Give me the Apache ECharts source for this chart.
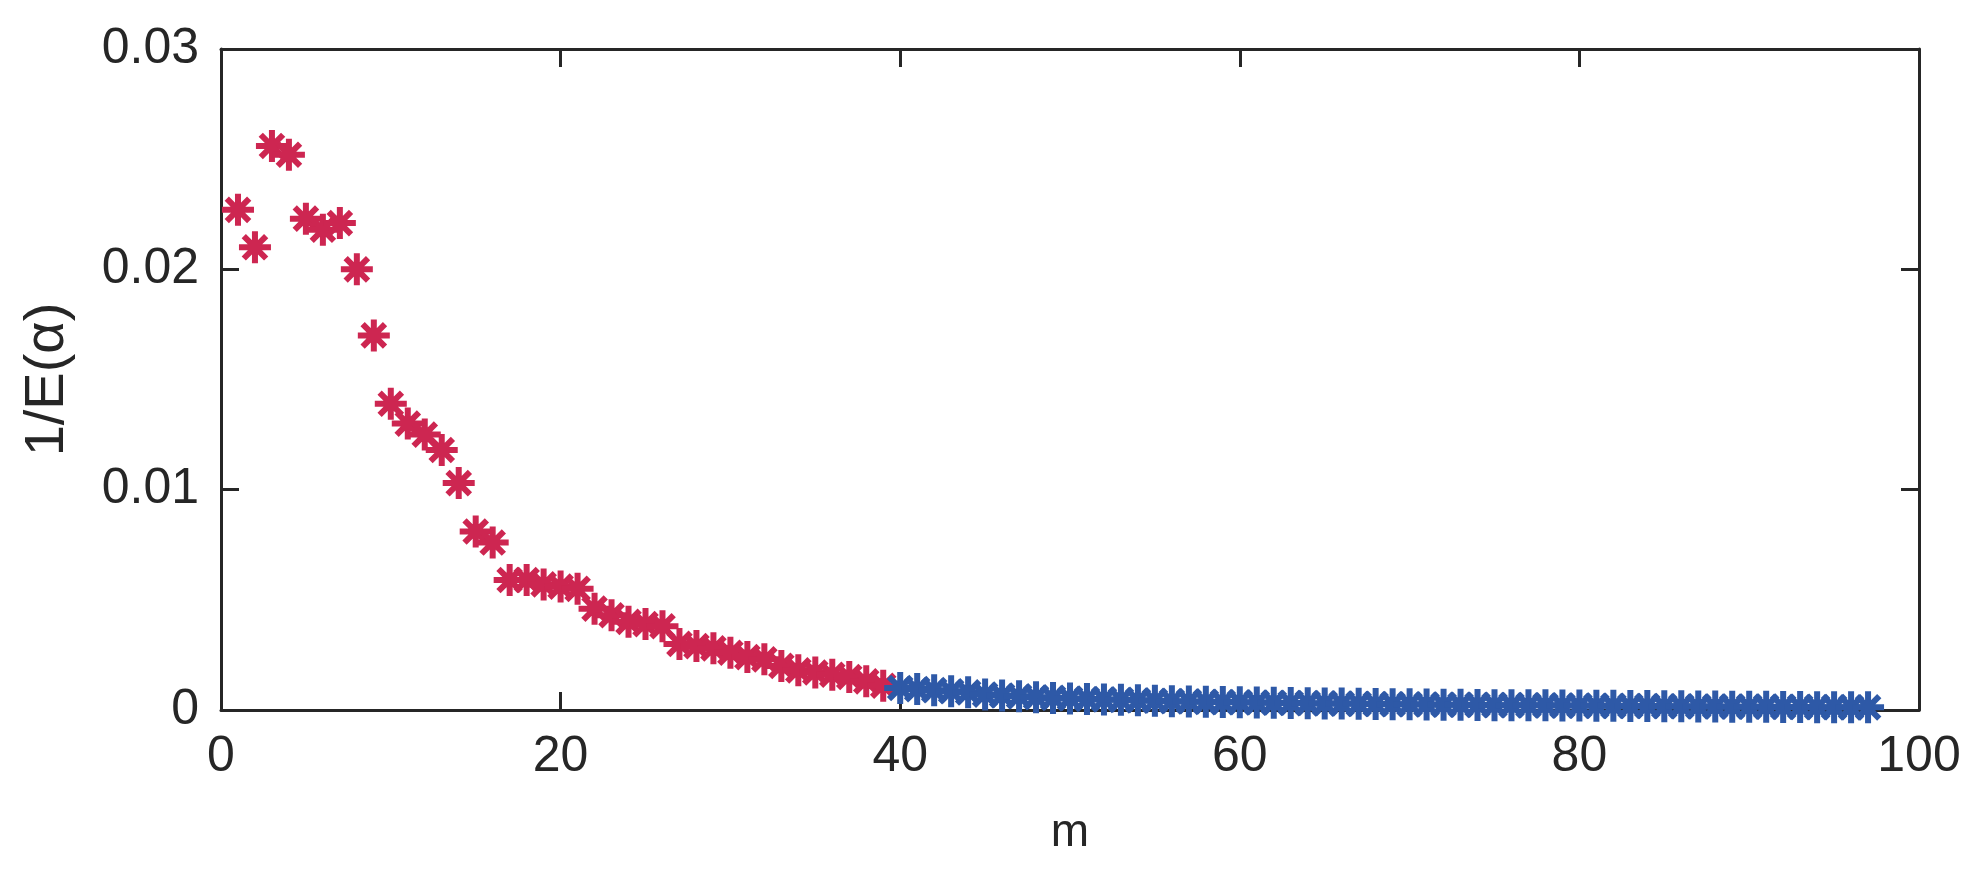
<!DOCTYPE html>
<html><head><meta charset="utf-8">
<script src="https://cdn.jsdelivr.net/npm/echarts@6/dist/echarts.min.js"></script>
<style>html,body{margin:0;padding:0;background:#fff}#c{width:1980px;height:869px}</style>
</head><body><div id="c"></div>
<script>
const redX = [1,2,3,4,5,6,7,8,9,10,11,12,13,14,15,16,17,18,19,20,21,22,23,24,25,26,27,28,29,30,31,32,33,34,35,36,37,38,39];
const redY = [0.0227,0.0210,0.0256,0.0252,0.0223,0.0218,0.0221,0.0200,0.0170,0.0139,0.0130,0.0125,0.0118,0.0103,0.0081,0.0076,0.0059,0.0059,0.0057,0.0056,0.0055,0.0046,0.0043,0.0040,0.0039,0.0038,0.0030,0.0029,0.0028,0.0026,0.0024,0.0023,0.0020,0.0018,0.0017,0.0016,0.0015,0.0013,0.0011];
const blueX = [40,41,42,43,44,45,46,47,48,49,50,51,52,53,54,55,56,57,58,59,60,61,62,63,64,65,66,67,68,69,70,71,72,73,74,75,76,77,78,79,80,81,82,83,84,85,86,87,88,89,90,91,92,93,94,95,96,97];
const blueY = [0.0010,0.00095,0.0009,0.00085,0.0008,0.0007,0.00066,0.00062,0.00058,0.00055,0.00052,0.0005,0.00048,0.00046,0.00044,0.00042,0.0004,0.00039,0.00037,0.00036,0.00035,0.00034,0.00033,0.00032,0.00031,0.0003,0.00029,0.00028,0.00027,0.00026,0.00026,0.00025,0.00024,0.00024,0.00023,0.00022,0.00022,0.00021,0.00021,0.0002,0.0002,0.00019,0.00019,0.00018,0.00018,0.00017,0.00017,0.00016,0.00016,0.00015,0.00015,0.00015,0.00014,0.00014,0.00013,0.00013,0.00012,0.00012];
const xTicks = [0,20,40,60,80,100];
const yTicks = [0,0.01,0.02,0.03];

const ast = 'path://M0,-10L0,10M-10,0L10,0M-7,-7L7,7M-7,7L7,-7';
const ax = '#262626';
const font = 'Liberation Sans, Helvetica, Arial, sans-serif';
const chart = echarts.init(document.getElementById('c'));
const baseX = {type:'value',min:0,max:100,interval:20,splitLine:{show:false},
  axisLine:{show:true,onZero:false,lineStyle:{color:ax,width:3}},
  axisTick:{show:true,inside:true,length:18,lineStyle:{color:ax,width:3}}};
const baseY = {type:'value',min:0,max:0.03,interval:0.01,splitLine:{show:false},
  axisLine:{show:true,onZero:false,lineStyle:{color:ax,width:3}},
  axisTick:{show:true,inside:true,length:18,lineStyle:{color:ax,width:3}}};
chart.setOption({
  backgroundColor:'#fff', animation:false,
  grid:{left:221,right:61,top:49,bottom:159,containLabel:false},
  xAxis:[
    Object.assign({},baseX,{position:'bottom',name:'m',nameLocation:'middle',nameGap:100,
      nameTextStyle:{fontSize:46,color:ax,fontFamily:font},
      axisLabel:{fontSize:50,color:ax,fontFamily:font,margin:22,formatter:v=>xTicks.includes(v)?String(v):''}}),
    Object.assign({},baseX,{position:'top',axisLabel:{show:false}})
  ],
  yAxis:[
    Object.assign({},baseY,{position:'left',name:'1/E(α)',nameLocation:'middle',nameGap:145,
      nameTextStyle:{fontSize:56,color:ax,fontFamily:font},
      axisLabel:{fontSize:50,color:ax,fontFamily:font,margin:22,formatter:v=>{const t=yTicks.find(k=>Math.abs(k-v)<1e-9);return t===undefined?'':(t===0?'0':t.toFixed(2));}}}),
    Object.assign({},baseY,{position:'right',axisLabel:{show:false}})
  ],
  series:[
    {type:'scatter',data:redX.map((x,i)=>[x,redY[i]]),symbol:ast,symbolSize:32,
     itemStyle:{color:'rgba(0,0,0,0)',borderColor:'#CD2651',borderWidth:6,opacity:1}},
    {type:'scatter',data:blueX.map((x,i)=>[x,blueY[i]]),symbol:ast,symbolSize:32,
     itemStyle:{color:'rgba(0,0,0,0)',borderColor:'#2E59A7',borderWidth:6,opacity:1}}
  ]
});
</script></body></html>
